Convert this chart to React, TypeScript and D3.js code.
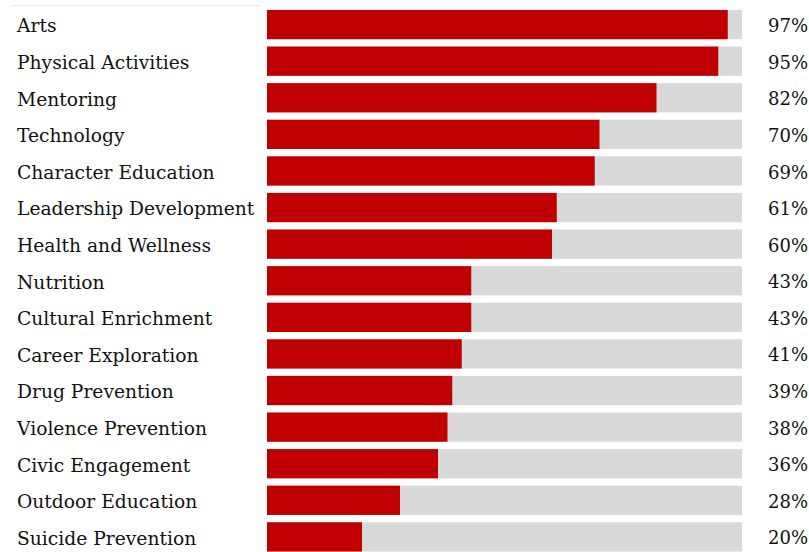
import React from "react";
import * as d3 from "d3";

const categories = [
  "Arts",
  "Physical Activities",
  "Mentoring",
  "Technology",
  "Character Education",
  "Leadership Development",
  "Health and Wellness",
  "Nutrition",
  "Cultural Enrichment",
  "Career Exploration",
  "Drug Prevention",
  "Violence Prevention",
  "Civic Engagement",
  "Outdoor Education",
  "Suicide Prevention",
];
const values = [97, 95, 82, 70, 69, 61, 60, 43, 43, 41, 39, 38, 36, 28, 20];

const W = 809;
const H = 552;

export default function App() {
  const x = d3.scaleLinear().domain([0, 100]).range([267, 742]);
  const y = d3
    .scaleBand<string>()
    .domain(categories)
    .range([6.3, 555.2])
    .paddingInner(0.2)
    .paddingOuter(0.1);
  const font = "'DejaVu Serif', 'Liberation Serif', serif";
  return (
    <svg
      width={W}
      height={H}
      style={{ position: "absolute", left: 0, top: 0, background: "#fff" }}
    >
      <line x1={11} x2={261} y1={5.5} y2={5.5} stroke="#eeeeee" strokeWidth={1} />
      {categories.map((c, i) => {
        const yy = y(c)!;
        const bh = y.bandwidth();
        return (
          <g key={c}>
            <rect x={x(0)} y={yy} width={x(100) - x(0)} height={bh} fill="#d9d9d9" />
            <rect x={x(0)} y={yy} width={x(values[i]) - x(0)} height={bh} fill="#c00000" />
            <text
              x={17}
              y={yy + bh / 2}
              dy="0.42em"
              fontFamily={font}
              fontSize={18.7}
              fill="#111"
            >
              {c}
            </text>
            <text
              x={808}
              y={yy + bh / 2}
              dy="0.42em"
              textAnchor="end"
              fontFamily={font}
              fontSize={18}
              fill="#111"
            >
              {values[i]}%
            </text>
          </g>
        );
      })}
    </svg>
  );
}
